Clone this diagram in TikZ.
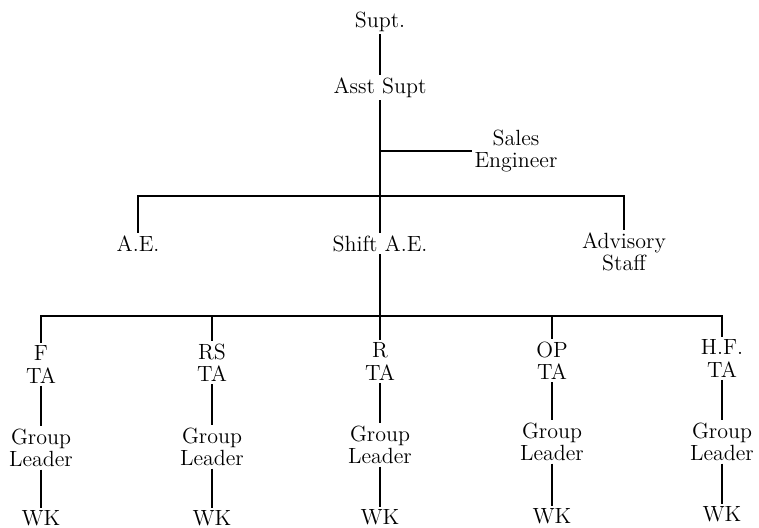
\documentclass[tikz,border=0pt]{standalone}
\usepackage{tikz}

\tikzset{post/.style={anchor=north, inner sep=1pt, align=center, font=\fontsize{11}{11.3}\selectfont}}

\begin{document}
\begin{tikzpicture}[x=0.5pt, y=-0.5pt, line width=0.65pt]
        \useasboundingbox (0,0) rectangle (759,528);

        % Nodes
        \node[post] (supt) at (380, 9) {Supt.};
        \node[post] (asst) at (380, 75) {Asst Supt};
        \node[post] (sales) at (516, 127) {Sales\\Engineer};
        \node[post] (ae) at (138, 233) {A.E.};
        \node[post] (shift) at (380, 233) {Shift A.E.};
        \node[post] (adv) at (624, 230) {Advisory\\Staff};

        \node[post] (fta) at (41, 343) {F\\TA};
        \node[post] (rsta) at (212, 341) {RS\\TA};
        \node[post] (rta) at (380, 340) {R\\TA};
        \node[post] (opta) at (552, 339) {OP\\TA};
        \node[post] (hfta) at (722, 337) {H.F.\\TA};

        \node[post] (fgl) at (41, 426) {Group\\Leader};
        \node[post] (rsgl) at (212, 425) {Group\\Leader};
        \node[post] (rgl) at (380, 423) {Group\\Leader};
        \node[post] (opgl) at (552, 420) {Group\\Leader};
        \node[post] (hfgl) at (722, 420) {Group\\Leader};

        \node[post] (fwk) at (41, 508) {WK};
        \node[post] (rswk) at (212, 508) {WK};
        \node[post] (rwk) at (380, 507) {WK};
        \node[post] (opwk) at (552, 506) {WK};
        \node[post] (hfwk) at (722, 504) {WK};

        \coordinate (bar1) at (380, 196);
        \coordinate (bar2) at (380, 316);

        % Edges
        \draw (supt) -- (asst);
        \draw (asst) -- (shift);
        \draw (asst |- sales.west) -- (sales.west);
        \draw (ae.north) |- (bar1) -| (adv.north);
        \draw (shift) -- (rta);
        \draw (fta.north) |- (bar2) -| (hfta.north);
        \draw (rsta.north) -- (rsta.north |- bar2);
        \draw (opta.north) -- (opta.north |- bar2);

        \draw (fta) -- (fgl);
        \draw (rsta) -- (rsgl);
        \draw (rta) -- (rgl);
        \draw (opta) -- (opgl);
        \draw (hfta) -- (hfgl);

        \draw (fgl) -- (fwk);
        \draw (rsgl) -- (rswk);
        \draw (rgl) -- (rwk);
        \draw (opgl) -- (opwk);
        \draw (hfgl) -- (hfwk);
    \end{tikzpicture}
\end{document}
